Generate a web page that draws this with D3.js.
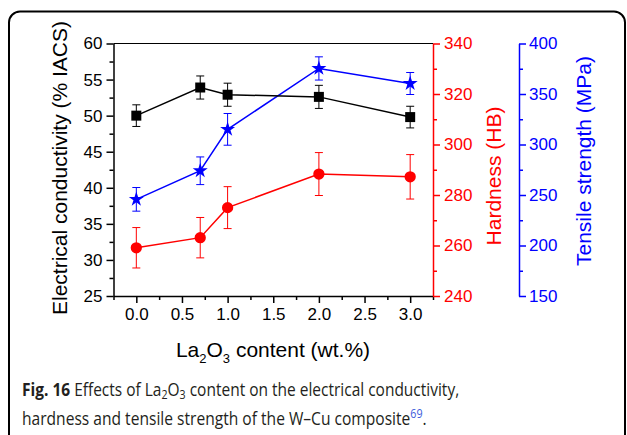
<!DOCTYPE html>
<html>
<head>
<meta charset="utf-8">
<script src="https://cdn.jsdelivr.net/npm/d3@7"></script>
<style>
  body { margin: 0; background: #fff; }
  svg { display: block; }
  .tick text { font-family: "Liberation Sans", Arial, sans-serif; }
</style>
</head>
<body>
<script>
// La2O3 content (wt.%)
const contents = [0, 0.7, 1.0, 2.0, 3.0];
// electrical conductivity (% IACS)
const conductivity = [50.0, 53.9, 52.9, 52.6, 49.8];
const conductivityErr = [1.5, 1.6, 1.6, 1.6, 1.5];
// hardness (HB)
const hardness = [259.1, 263.1, 275.0, 288.3, 287.2];
const hardnessErr = [8.0, 8.0, 8.3, 8.5, 8.8];
// tensile strength (MPa)
const tensile = [245.7, 274.0, 315.0, 375.3, 360.4];
const tensileErr = [11.7, 13.7, 15.7, 11.5, 10.9];

const xTicks = [0, 0.5, 1.0, 1.5, 2.0, 2.5, 3.0];
const leftTicks = [25, 30, 35, 40, 45, 50, 55, 60];
const redTicks = [240, 260, 280, 300, 320, 340];
const blueTicks = [150, 200, 250, 300, 350, 400];

const W = 627, H = 435;
const plot = { left: 113.5, right: 433, top: 43.5, bottom: 296 };
const font = '"Liberation Sans", Arial, sans-serif';

const svg = d3.select('body').append('svg')
    .attr('width', W)
    .attr('height', H);

// frame of the figure box
svg.append('rect')
    .attr('x', 9).attr('y', 11.5)
    .attr('width', 616).attr('height', 450)
    .attr('rx', 11)
    .attr('fill', 'none')
    .attr('stroke', '#000')
    .attr('stroke-width', 2);

const x = d3.scaleLinear().domain([-0.25, 3.25]).range([plot.left, plot.right]);
const yCond = d3.scaleLinear().domain([25, 60]).range([plot.bottom, plot.top]);
const yHard = d3.scaleLinear().domain([240, 340]).range([plot.bottom, plot.top]);
const yTens = d3.scaleLinear().domain([150, 400]).range([plot.bottom, plot.top]);

function drawAxis(axisFn, scale, major, minor, tx, ty, color, pad) {
    const g = svg.append('g').attr('transform', `translate(${tx},${ty})`);
    g.append('g')
        .call(axisFn(scale).tickValues(minor).tickSize(4).tickFormat(''))
        .call(a => a.select('.domain').remove());
    g.append('g')
        .call(axisFn(scale).tickValues(major).tickSize(7).tickSizeOuter(0).tickPadding(pad)
            .tickFormat(d => axisFn === d3.axisBottom ? d.toFixed(1) : d));
    g.selectAll('line, path').attr('stroke', color).attr('stroke-width', 1.5);
    g.selectAll('text').attr('fill', color).style('font-size', '17px');
    return g;
}

// top frame line
svg.append('line')
    .attr('x1', plot.left).attr('x2', plot.right)
    .attr('y1', plot.top).attr('y2', plot.top)
    .attr('stroke', '#000').attr('stroke-width', 1.2);

const xMinor = d3.range(-0.25, 3.3, 0.5);
drawAxis(d3.axisBottom, x, xTicks, xMinor, 0, plot.bottom, '#000', 5);
drawAxis(d3.axisLeft, yCond, leftTicks, d3.range(27.5, 60, 5), plot.left, 0, '#000', 4);
drawAxis(d3.axisRight, yHard, redTicks, d3.range(250, 340, 20), plot.right, 0, '#ff0000', 4);
drawAxis(d3.axisRight, yTens, blueTicks, d3.range(175, 400, 50), 519, 0, '#0000ff', 3);

// axis titles
svg.append('text')
    .attr('transform', `translate(67,168) rotate(-90)`)
    .attr('text-anchor', 'middle')
    .style('font-family', font).style('font-size', '21px')
    .text('Electrical conductivity (% IACS)');

svg.append('text')
    .attr('transform', `translate(501,176) rotate(-90)`)
    .attr('text-anchor', 'middle')
    .attr('fill', '#ff0000')
    .style('font-family', font).style('font-size', '21px')
    .text('Hardness (HB)');

svg.append('text')
    .attr('transform', `translate(591,161) rotate(-90)`)
    .attr('text-anchor', 'middle')
    .attr('fill', '#0000ff')
    .style('font-family', font).style('font-size', '21px')
    .text('Tensile strength (MPa)');

const xt = svg.append('text')
    .attr('x', 273).attr('y', 356.5)
    .attr('text-anchor', 'middle')
    .style('font-family', font).style('font-size', '21px');
xt.append('tspan').text('La');
xt.append('tspan').attr('dy', 6).style('font-size', '13px').text('2');
xt.append('tspan').attr('dy', -6).text('O');
xt.append('tspan').attr('dy', 6).style('font-size', '13px').text('3');
xt.append('tspan').attr('dy', -6).text(' content (wt.%)');

// series
const rows = contents.map((c, i) => ({
    c, cond: conductivity[i], condErr: conductivityErr[i],
    hard: hardness[i], hardErr: hardnessErr[i],
    tens: tensile[i], tensErr: tensileErr[i]
}));

function drawSeries(key, errKey, y, color, symbol, size) {
    const g = svg.append('g');
    g.append('path')
        .datum(rows)
        .attr('fill', 'none')
        .attr('stroke', color)
        .attr('stroke-width', 1.5)
        .attr('d', d3.line().x(d => x(d.c)).y(d => y(d[key])));

    const eb = g.selectAll('.eb').data(rows).join('g')
        .attr('stroke', color).attr('stroke-width', 1);
    eb.append('line')
        .attr('x1', d => x(d.c)).attr('x2', d => x(d.c))
        .attr('y1', d => y(d[key] - d[errKey])).attr('y2', d => y(d[key] + d[errKey]));
    eb.append('line')
        .attr('x1', d => x(d.c) - 4).attr('x2', d => x(d.c) + 4)
        .attr('y1', d => y(d[key] + d[errKey])).attr('y2', d => y(d[key] + d[errKey]));
    eb.append('line')
        .attr('x1', d => x(d.c) - 4).attr('x2', d => x(d.c) + 4)
        .attr('y1', d => y(d[key] - d[errKey])).attr('y2', d => y(d[key] - d[errKey]));

    g.selectAll('.mk').data(rows).join('path')
        .attr('transform', d => `translate(${x(d.c)},${y(d[key])})`)
        .attr('fill', color)
        .attr('d', d3.symbol().type(symbol).size(size));
}

drawSeries('hard', 'hardErr', yHard, '#ff0000', d3.symbolCircle, 100);
drawSeries('tens', 'tensErr', yTens, '#0000ff', d3.symbolStar, 70);
drawSeries('cond', 'condErr', yCond, '#000', d3.symbolSquare, 100);

// caption
const capFont = '"Open Sans", "Noto Sans", sans-serif';
const capColor = '#231f20';
function captionLine(y, targetW, build) {
    const t = svg.append('text')
        .attr('y', y)
        .attr('fill', capColor)
        .style('font-family', capFont).style('font-size', '17.5px');
    build(t);
    const w = t.node().getComputedTextLength();
    t.attr('transform', `translate(22,0) scale(${targetW / w},1)`);
}
captionLine(396.5, 437.5, t => {
    t.append('tspan').style('font-weight', 'bold').text('Fig. 16');
    t.append('tspan').text(' Effects of La');
    t.append('tspan').attr('dy', 3).style('font-size', '12px').text('2');
    t.append('tspan').attr('dy', -3).text('O');
    t.append('tspan').attr('dy', 3).style('font-size', '12px').text('3');
    t.append('tspan').attr('dy', -3).text(' content on the electrical conductivity,');
});
captionLine(425, 405, t => {
    t.append('tspan').text('hardness and tensile strength of the W\u2013Cu composite');
    t.append('tspan').attr('dy', -7).attr('fill', '#3b5bdb').style('font-size', '12px').text('69');
    t.append('tspan').attr('dy', 7).text('.');
});
</script>
</body>
</html>
